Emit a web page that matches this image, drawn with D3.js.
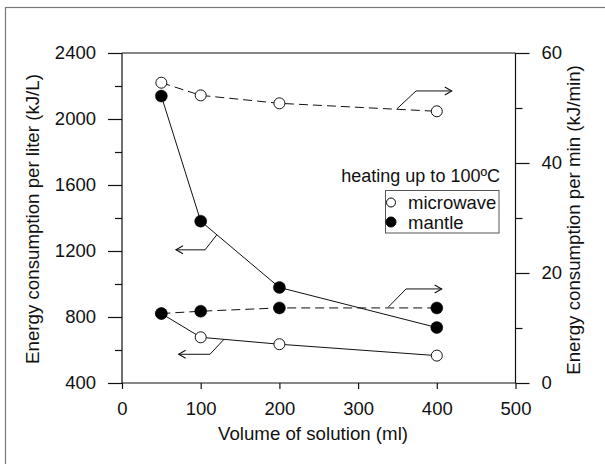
<!DOCTYPE html>
<html>
<head>
<meta charset="utf-8">
<script src="https://cdn.jsdelivr.net/npm/d3@7"></script>
<style>
  html, body { margin: 0; padding: 0; background: #fff; }
  svg { display: block; font-family: "Liberation Sans", Arial, sans-serif; }
</style>
</head>
<body>
<svg id="chart" width="605" height="464"></svg>
<script>
// ---- data ----
const volumes = [50, 100, 200, 400];
const microwavePerLiter = [821, 677, 635, 566];     // kJ/L (left axis)
const mantlePerLiter = [2139, 1381, 979, 736];      // kJ/L (left axis)
const microwavePerMin = [54.6, 52.3, 50.85, 49.4];  // kJ/min (right axis)
const mantlePerMin = [12.63, 13.05, 13.65, 13.65];  // kJ/min (right axis)

const xTicks = [0, 100, 200, 300, 400, 500];
const yLeftMajor = [400, 800, 1200, 1600, 2000, 2400];
const yLeftMinor = [600, 1000, 1400, 1800, 2200];
const yRightMajor = [0, 20, 40, 60];
const yRightMinor = [10, 30, 50];

// annotation leaders: [start, elbow, end] in data units, axis used
const annotations = [
  { axis: "right", pts: [[349, 49.8], [373.6, 53.1], [419, 53.1]] },
  { axis: "left",  pts: [[120.3, 1297], [105.5, 1207], [68.6, 1207]] },
  { axis: "right", pts: [[338.4, 13.8], [360.9, 17.1], [406.2, 17.1]] },
  { axis: "left",  pts: [[129.6, 665], [111.8, 574], [72, 574]] }
];

const xLabel = "Volume of solution (ml)";
const yLeftLabel = "Energy consumption per liter (kJ/L)";
const yRightLabel = "Energy consumption per min (kJ/min)";
const legendTitle = "heating up to 100ºC";
const legendItems = ["microwave", "mantle"];

// ---- layout ----
const svg = d3.select("#chart");
const L = 122, R = 515.5, T = 53, B = 383;
const ink = "#111";
const tickFont = "18.5px";
const titleFont = "18.7px";

const x = d3.scaleLinear().domain([0, 500]).range([L, R]);
const yL = d3.scaleLinear().domain([400, 2400]).range([B, T]);
const yR = d3.scaleLinear().domain([0, 60]).range([B, T]);

// outer frame
svg.append("rect").attr("x", 5.5).attr("y", 7.5).attr("width", 605).attr("height", 470)
  .attr("fill", "none").attr("stroke", "#777").attr("stroke-width", 1.2);

// axes
const gx = svg.append("g").attr("transform", `translate(0,${B})`)
  .call(d3.axisBottom(x).tickValues(xTicks).tickSize(6).tickPadding(13).tickFormat(d3.format("d")));
const gl = svg.append("g").attr("transform", `translate(${L},0)`)
  .call(d3.axisLeft(yL).tickValues(yLeftMajor).tickSize(14).tickPadding(12).tickFormat(d3.format("d")));
const glm = svg.append("g").attr("transform", `translate(${L},0)`)
  .call(d3.axisLeft(yL).tickValues(yLeftMinor).tickSize(7).tickFormat(""));
const gr = svg.append("g").attr("transform", `translate(${R},0)`)
  .call(d3.axisRight(yR).tickValues(yRightMajor).tickSize(14).tickPadding(12).tickFormat(d3.format("d")));
const grm = svg.append("g").attr("transform", `translate(${R},0)`)
  .call(d3.axisRight(yR).tickValues(yRightMinor).tickSize(7).tickFormat(""));

[gx, gl, glm, gr, grm].forEach(g => {
  g.select(".domain").remove();
  g.selectAll(".tick line").attr("stroke", ink).attr("stroke-width", 1.2);
  g.selectAll(".tick text").attr("fill", ink).style("font-size", tickFont)
    .style("font-family", '"Liberation Sans", Arial, sans-serif');
});
// plot frame lines (top, bottom, left, right)
[[L, T, R, T], [L, B, R, B], [L, T, L, B], [R, T, R, B]].forEach(s => {
  svg.append("line").attr("x1", s[0]).attr("y1", s[1]).attr("x2", s[2]).attr("y2", s[3])
    .attr("stroke", ink).attr("stroke-width", 1.2);
});

// axis titles
svg.append("text").attr("x", 313).attr("y", 440).attr("text-anchor", "middle")
  .attr("fill", ink).style("font-size", titleFont).text(xLabel);
svg.append("text").attr("transform", `translate(39,${(T + B) / 2 + 1}) rotate(-90)`)
  .attr("text-anchor", "middle").attr("fill", ink).style("font-size", titleFont).text(yLeftLabel);
svg.append("text").attr("transform", `translate(580,${(T + B) / 2 + 2}) rotate(-90)`)
  .attr("text-anchor", "middle").attr("fill", ink).style("font-size", titleFont).text(yRightLabel);

// ---- series lines ----
const lineL = d3.line().x((d, i) => x(volumes[i])).y(d => yL(d));
const lineR = d3.line().x((d, i) => x(volumes[i])).y(d => yR(d));

svg.append("path").attr("d", lineL(mantlePerLiter)).attr("fill", "none").attr("stroke", ink).attr("stroke-width", 1);
svg.append("path").attr("d", lineL(microwavePerLiter)).attr("fill", "none").attr("stroke", ink).attr("stroke-width", 1);
svg.append("path").attr("d", lineR(microwavePerMin)).attr("fill", "none").attr("stroke", ink).attr("stroke-width", 1).attr("stroke-dasharray", "9,5");
svg.append("path").attr("d", lineR(mantlePerMin)).attr("fill", "none").attr("stroke", ink).attr("stroke-width", 1).attr("stroke-dasharray", "9,5");

// annotations
annotations.forEach(a => {
  const ys = a.axis === "left" ? yL : yR;
  const p = a.pts.map(d => [x(d[0]), ys(d[1])]);
  svg.append("path").attr("d", d3.line()(p)).attr("fill", "none").attr("stroke", ink).attr("stroke-width", 1);
  const end = p[2], prev = p[1];
  const dir = end[0] > prev[0] ? 1 : -1;
  svg.append("path")
    .attr("d", d3.line()([[end[0] - dir * 7, end[1] - 4], end, [end[0] - dir * 7, end[1] + 4]]))
    .attr("fill", "none").attr("stroke", ink).attr("stroke-width", 1.1);
});

// ---- markers ----
function openCircles(vals, ys) {
  svg.append("g").selectAll("circle").data(vals).join("circle")
    .attr("cx", (d, i) => x(volumes[i])).attr("cy", d => ys(d)).attr("r", 5.5)
    .attr("fill", "#fff").attr("stroke", ink).attr("stroke-width", 1);
}
function filledCircles(vals, ys) {
  svg.append("g").selectAll("circle").data(vals).join("circle")
    .attr("cx", (d, i) => x(volumes[i])).attr("cy", d => ys(d)).attr("r", 6)
    .attr("fill", "#000").attr("stroke", "#000").attr("stroke-width", 0.5);
}
openCircles(microwavePerLiter, yL);
openCircles(microwavePerMin, yR);
filledCircles(mantlePerLiter, yL);
filledCircles(mantlePerMin, yR);

// ---- legend ----
svg.append("text").attr("x", 500).attr("y", 182).attr("text-anchor", "end")
  .attr("fill", ink).style("font-size", "18px").text(legendTitle);
svg.append("rect").attr("x", 385.5).attr("y", 190.5).attr("width", 113.5).attr("height", 42.5)
  .attr("fill", "#fff").attr("stroke", "#555").attr("stroke-width", 1);
legendItems.forEach((name, i) => {
  const cy = 202.5 + i * 19.5;
  svg.append("circle").attr("cx", 391).attr("cy", cy).attr("r", i === 0 ? 4.5 : 5)
    .attr("fill", i === 0 ? "#fff" : "#000").attr("stroke", "#000").attr("stroke-width", 1);
  svg.append("text").attr("x", 408).attr("y", cy + 6.5).attr("fill", ink)
    .style("font-size", "18.5px").text(name);
});
</script>
</body>
</html>
